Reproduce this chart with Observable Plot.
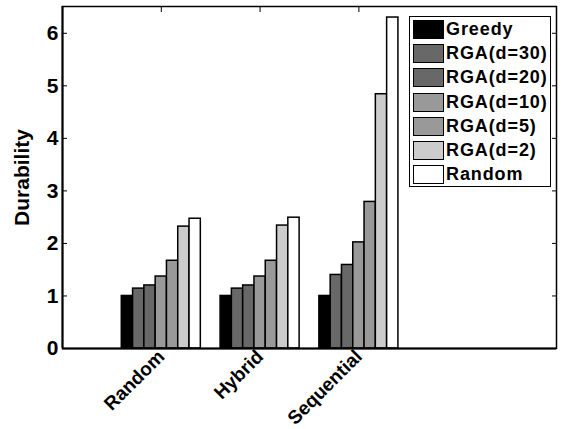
<!DOCTYPE html>
<html>
<head>
<meta charset="utf-8">
<script src="https://cdn.jsdelivr.net/npm/d3@7"></script>
<script src="https://cdn.jsdelivr.net/npm/@observablehq/plot@0.6"></script>
<style>
  html, body { margin: 0; padding: 0; background: #fff; }
  #wrap { position: relative; width: 565px; height: 429px; font-family: "Liberation Sans", Arial, sans-serif; }
  #legend { position: absolute; left: 409px; top: 16px; width: 140px; height: 169px; border: 1.5px solid #000; background: #fff; }
  .row { position: absolute; left: 3px; height: 19px; display: flex; align-items: center; }
  .sw { width: 29px; height: 17px; border: 1.5px solid #000; margin-right: 2px; }
  .lab { font-weight: bold; font-size: 18px; letter-spacing: 0.9px; color: #000; white-space: nowrap; }
</style>
</head>
<body>
<div id="wrap"></div>
<script>
const categories = ["Random", "Hybrid", "Sequential"];
const seriesNames = ["Greedy", "RGA(d=30)", "RGA(d=20)", "RGA(d=10)", "RGA(d=5)", "RGA(d=2)", "Random"];
const seriesColors = ["#000000", "#686868", "#686868", "#999999", "#999999", "#cccccc", "#ffffff"];
const greedy = [1.00, 1.00, 1.00];
const rga30 = [1.14, 1.14, 1.40];
const rga20 = [1.20, 1.20, 1.59];
const rga10 = [1.37, 1.37, 2.02];
const rga5 = [1.67, 1.67, 2.79];
const rga2 = [2.32, 2.34, 4.84];
const randomS = [2.47, 2.49, 6.30];
const yTicks = [0, 1, 2, 3, 4, 5, 6];

const seriesValues = [greedy, rga30, rga20, rga10, rga5, rga2, randomS];
const groupWidth = 0.8;
const nS = seriesNames.length;
const data = [];
seriesValues.forEach((vals, si) => {
  vals.forEach((v, ci) => {
    data.push({series: seriesNames[si], si, ci, value: v});
  });
});
const barW = groupWidth / nS;

const chart = Plot.plot({
  width: 565,
  height: 429,
  marginLeft: 62,
  marginRight: 9,
  marginTop: 6,
  marginBottom: 81,
  style: {fontFamily: "Liberation Sans, Arial, sans-serif", background: "#fff"},
  x: {domain: [0, 5]},
  y: {domain: [0, 6.51]},
  color: {domain: seriesNames, range: seriesColors},
  marks: [
    Plot.rectY(data, {
      x1: d => d.ci + 1 - groupWidth / 2 + d.si * barW,
      x2: d => d.ci + 1 - groupWidth / 2 + (d.si + 1) * barW,
      y1: 0,
      y2: "value",
      fill: "series",
      stroke: "#000",
      strokeWidth: 1.5
    }),
    Plot.axisY({
      anchor: "left", ticks: yTicks, tickSize: -5, tickPadding: 9, tickFormat: d3.format("d"),
      fontSize: 21, fontWeight: "bold", fill: "#000",
      label: "Durability", labelAnchor: "center", labelArrow: "none", labelOffset: 48
    }),
    Plot.axisY({anchor: "right", ticks: yTicks, tickSize: -5, tickFormat: () => "", label: null}),
    Plot.axisX({
      anchor: "bottom", ticks: [1, 2, 3], tickSize: 0, tickPadding: 5,
      tickFormat: d => categories[d - 1], tickRotate: -45, textAnchor: "end",
      fontSize: 19, fontWeight: "bold", fill: "#000", label: null
    }),
    Plot.axisX({anchor: "top", ticks: [1, 2, 3], tickSize: -5, tickFormat: () => "", label: null}),
    Plot.frame({stroke: "#000", strokeWidth: 1.5}),
    Plot.ruleY([0], {stroke: "#000", strokeWidth: 2}),
    Plot.ruleX([0], {stroke: "#000", strokeWidth: 2})
  ]
});
chart.querySelectorAll("text").forEach(t => {
  if (t.textContent === "Durability") { t.setAttribute("font-size", 21); t.setAttribute("font-weight", "bold"); t.setAttribute("fill", "#000"); }
});
const wrap = document.getElementById("wrap");
wrap.appendChild(chart);

const legend = document.createElement("div");
legend.id = "legend";
seriesNames.forEach((name, i) => {
  const row = document.createElement("div");
  row.className = "row";
  row.style.top = (3 + i * 24.2) + "px";
  const sw = document.createElement("div");
  sw.className = "sw";
  sw.style.background = seriesColors[i];
  const lab = document.createElement("span");
  lab.className = "lab";
  lab.textContent = name;
  row.appendChild(sw);
  row.appendChild(lab);
  legend.appendChild(row);
});
wrap.appendChild(legend);
</script>
</body>
</html>
